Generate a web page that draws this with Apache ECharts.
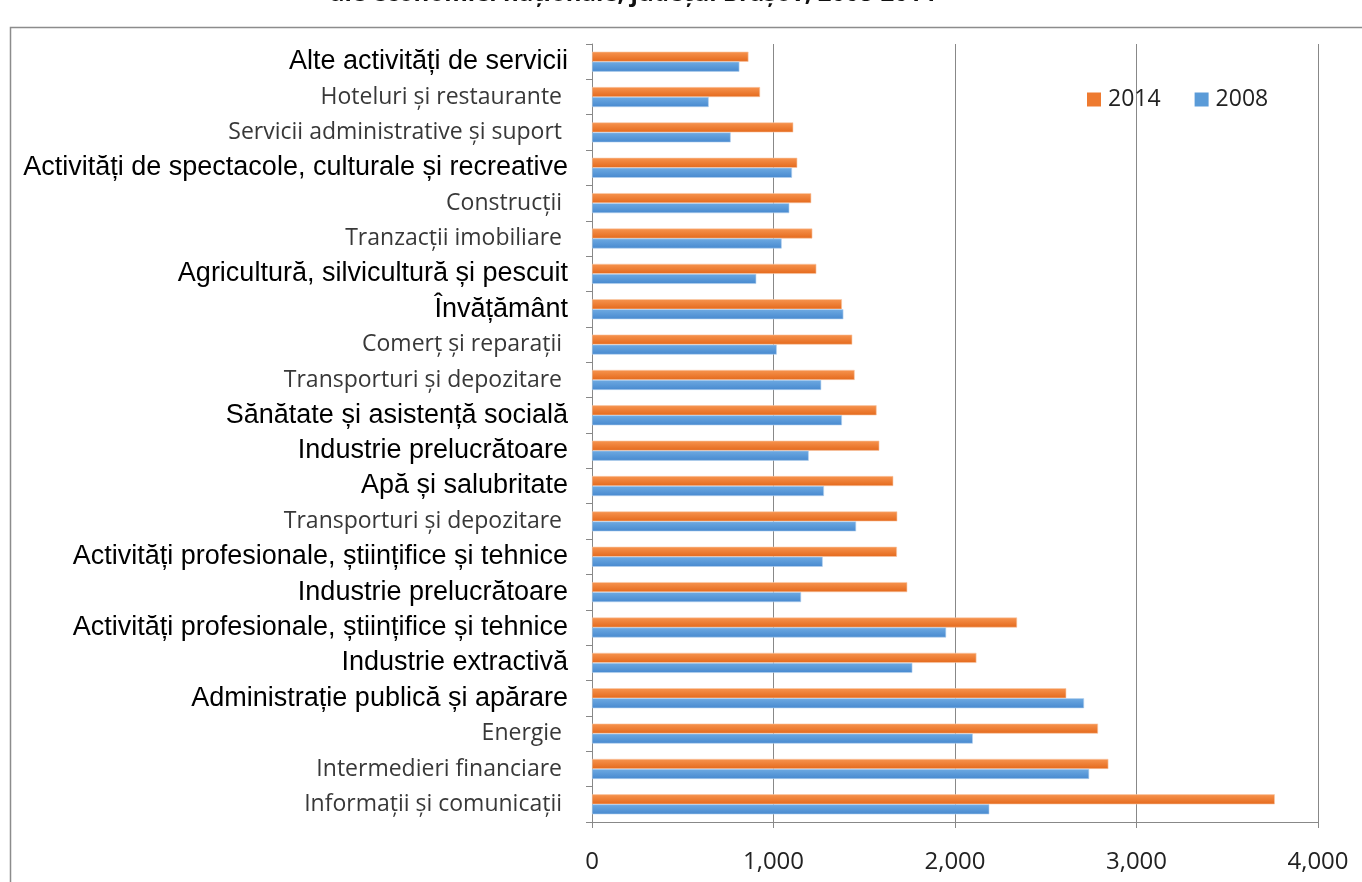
<!DOCTYPE html>
<html>
<head>
<meta charset="utf-8">
<script src="https://cdn.jsdelivr.net/npm/echarts@6/dist/echarts.min.js"></script>
<style>
html,body{margin:0;padding:0;background:#fff;}
#chart{width:1362px;height:882px;}
</style>
</head>
<body>
<div id="chart"></div>
<script>
// Categories listed top to bottom as shown
const categories = [
  "Alte activități de servicii",
  "Hoteluri și restaurante",
  "Servicii administrative și suport",
  "Activități de spectacole, culturale și recreative",
  "Construcții",
  "Tranzacții imobiliare",
  "Agricultură, silvicultură și pescuit",
  "Învățământ",
  "Comerț și reparații",
  "Transporturi și depozitare",
  "Sănătate și asistență socială",
  "Industrie prelucrătoare",
  "Apă și salubritate",
  "Transporturi și depozitare",
  "Activități profesionale, științifice și tehnice",
  "Industrie prelucrătoare",
  "Activități profesionale, științifice și tehnice",
  "Industrie extractivă",
  "Administrație publică și apărare",
  "Energie",
  "Intermedieri financiare",
  "Informații și comunicații"
];
const values2014 = [862, 926, 1109, 1131, 1208, 1214, 1236, 1377, 1434, 1447, 1568, 1583, 1660, 1682, 1680, 1737, 2342, 2118, 2613, 2788, 2845, 3762];
const values2008 = [812, 643, 764, 1102, 1087, 1045, 905, 1385, 1018, 1263, 1377, 1194, 1278, 1455, 1271, 1152, 1951, 1765, 2711, 2098, 2739, 2189];
const xTicks = [0, 1000, 2000, 3000, 4000];
const seriesNames = ["2014", "2008"];
const titleText = "ale economiei naționale, județul Brașov, 2008-2014";

const largeLabels = new Set([
  "Alte activități de servicii",
  "Activități de spectacole, culturale și recreative",
  "Agricultură, silvicultură și pescuit",
  "Învățământ",
  "Sănătate și asistență socială",
  "Industrie prelucrătoare",
  "Apă și salubritate",
  "Activități profesionale, științifice și tehnice",
  "Industrie extractivă",
  "Administrație publică și apărare"
]);

const chart = echarts.init(document.getElementById('chart'), null, {renderer: 'canvas'});

function grad(top, bottom) {
  return new echarts.graphic.LinearGradient(0, 0, 0, 1, [
    {offset: 0, color: top}, {offset: 1, color: bottom}
  ]);
}

const option = {
  animation: false,
  backgroundColor: '#fff',
  textStyle: {fontFamily: 'Open Sans'},
  grid: {left: 592, right: 44, top: 44, bottom: 60, containLabel: false},
  legend: {
    data: [
      {name: seriesNames[0], itemStyle: {color: '#EE7A30', borderWidth: 0}},
      {name: seriesNames[1], itemStyle: {color: '#5A9BD8', borderWidth: 0}}
    ],
    left: 1082, top: 83,
    itemWidth: 14, itemHeight: 14, itemGap: 34,
    icon: 'rect',
    textStyle: {fontFamily: 'Open Sans', fontSize: 23, color: '#222', padding: [0, 0, 0, 2]}
  },
  xAxis: {
    type: 'value', min: xTicks[0], max: xTicks[xTicks.length - 1], interval: 1000,
    axisLine: {show: true, lineStyle: {color: '#888', width: 1}},
    axisTick: {show: true, length: 6, lineStyle: {color: '#888'}},
    splitLine: {show: true, lineStyle: {color: '#888', width: 1}},
    axisLabel: {
      margin: 28, fontFamily: 'Open Sans', fontSize: 24, color: '#222',
      formatter: v => v.toLocaleString('en-US')
    }
  },
  yAxis: {
    type: 'category', data: categories, inverse: true,
    axisLine: {show: true, lineStyle: {color: '#888', width: 1}},
    axisTick: {show: true, length: 6, lineStyle: {color: '#888'}},
    splitLine: {show: false},
    axisLabel: {
      margin: 24, interval: 0,
      formatter: v => largeLabels.has(v) ? '{b|' + v + '}' : '{s|' + v + ' }',
      rich: {
        b: {fontFamily: 'Liberation Sans', fontSize: 27, color: '#000'},
        s: {fontFamily: 'Open Sans', fontSize: 23, color: '#383838'}
      }
    }
  },
  series: [
    {
      name: seriesNames[0], type: 'bar', data: values2014,
      barWidth: 10, barGap: '0%',
      itemStyle: {color: grad('#F7944F', '#E4691C'), borderColor: '#F9C7A6', borderWidth: 0.6}
    },
    {
      name: seriesNames[1], type: 'bar', data: values2008,
      barWidth: 10, barGap: '0%',
      itemStyle: {color: grad('#6EAAE2', '#4789CF'), borderColor: '#B5D2EF', borderWidth: 0.6}
    }
  ],
  graphic: [
    {type: 'rect', shape: {x: 10.5, y: 27.5, width: 1400, height: 900}, style: {fill: 'none', stroke: '#8c8c8c', lineWidth: 1.5}, silent: true, z: -1},
    {type: 'text', left: 330, top: -18, style: {text: titleText, fontFamily: 'Open Sans', fontWeight: 'bold', fontSize: 24, fill: '#111'}}
  ]
};
chart.setOption(option);
</script>
</body>
</html>
